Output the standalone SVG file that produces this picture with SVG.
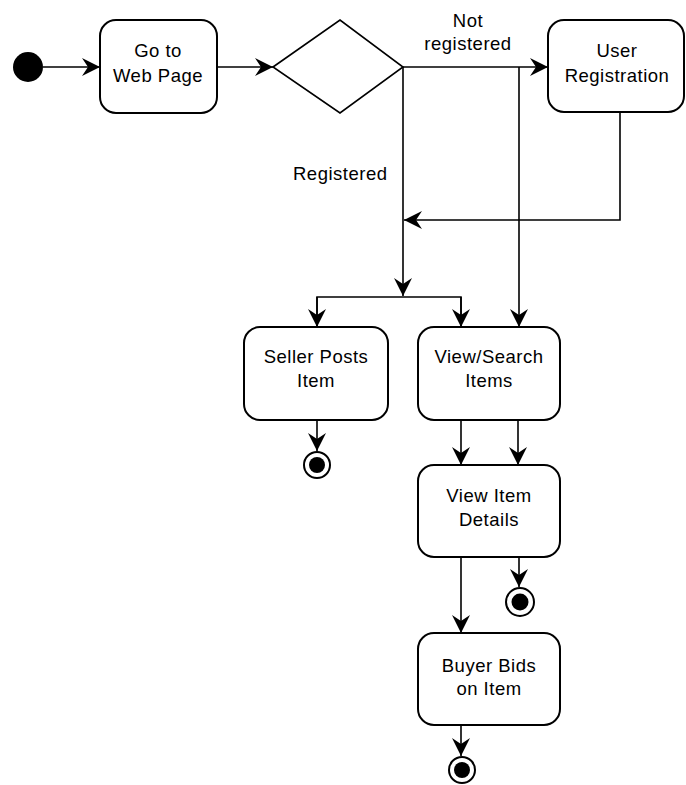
<svg xmlns="http://www.w3.org/2000/svg" width="686" height="785" viewBox="0 0 686 785">
<defs>
<style>
.box{fill:#fff;stroke:#000;stroke-width:2}
.ln{fill:none;stroke:#000;stroke-width:1.6}
.t{font-family:"Liberation Sans",Arial,sans-serif;font-size:18.5px;fill:#000;text-anchor:middle;letter-spacing:0.5px}
.ring{fill:#fff;stroke:#000;stroke-width:2}
</style>
<marker id="ah" markerUnits="userSpaceOnUse" markerWidth="20" markerHeight="20" viewBox="0 0 20 20" refX="18" refY="10" orient="auto">
<path d="M0,1 L18,10 L0,19 L6,10 z" fill="#000"/>
</marker>
</defs>
<g id="connectors">
<line class="ln" x1="43" y1="67" x2="100" y2="67" marker-end="url(#ah)"/>
<line class="ln" x1="217" y1="67" x2="273" y2="67" marker-end="url(#ah)"/>
<line class="ln" x1="403" y1="67" x2="548" y2="67" marker-end="url(#ah)"/>
<line class="ln" x1="403" y1="67" x2="403" y2="296" marker-end="url(#ah)"/>
<line class="ln" x1="519" y1="67" x2="519" y2="327" marker-end="url(#ah)"/>
<polyline class="ln" points="620,112 620,220 404,220" marker-end="url(#ah)"/>
<polyline class="ln" points="317,327 317,297 461,297 461,327"/>
<line class="ln" x1="317" y1="297" x2="317" y2="327" marker-end="url(#ah)"/>
<line class="ln" x1="461" y1="297" x2="461" y2="327" marker-end="url(#ah)"/>
<line class="ln" x1="317" y1="420" x2="317" y2="451" marker-end="url(#ah)"/>
<line class="ln" x1="461" y1="420" x2="461" y2="465" marker-end="url(#ah)"/>
<line class="ln" x1="518" y1="420" x2="518" y2="465" marker-end="url(#ah)"/>
<line class="ln" x1="461" y1="557" x2="461" y2="633" marker-end="url(#ah)"/>
<line class="ln" x1="519" y1="557" x2="519" y2="587" marker-end="url(#ah)"/>
<line class="ln" x1="461" y1="725" x2="461" y2="756" marker-end="url(#ah)"/>
<text class="t" x="468" y="27">Not</text>
<text class="t" x="468" y="50">registered</text>
<text class="t" x="293" y="180" style="text-anchor:start">Registered</text>
</g>
<g id="start"><circle cx="28" cy="67" r="15" fill="#000"/></g>
<g id="goto">
<rect class="box" x="100" y="20" width="117" height="93" rx="16"/>
<text class="t" x="158" y="57">Go to</text>
<text class="t" x="158" y="82">Web Page</text>
</g>
<g id="decision"><polygon points="273,67 340,20 403,67 340,113" fill="#fff" stroke="#000" stroke-width="1.6"/></g>
<g id="userreg">
<rect class="box" x="548" y="20" width="136" height="92" rx="16"/>
<text class="t" x="617" y="57">User</text>
<text class="t" x="617" y="82">Registration</text>
</g>
<g id="seller">
<rect class="box" x="244" y="327" width="144" height="93" rx="16"/>
<text class="t" x="316" y="363">Seller Posts</text>
<text class="t" x="316" y="387">Item</text>
</g>
<g id="viewsearch">
<rect class="box" x="418" y="327" width="142" height="93" rx="16"/>
<text class="t" x="489" y="363">View/Search</text>
<text class="t" x="489" y="387">Items</text>
</g>
<g id="viewdetails">
<rect class="box" x="418" y="465" width="142" height="92" rx="16"/>
<text class="t" x="489" y="502">View Item</text>
<text class="t" x="489" y="526">Details</text>
</g>
<g id="buyerbids">
<rect class="box" x="418" y="633" width="142" height="92" rx="16"/>
<text class="t" x="489" y="672">Buyer Bids</text>
<text class="t" x="489" y="695">on Item</text>
</g>
<g id="end1"><circle class="ring" cx="317" cy="465" r="13"/><circle cx="317" cy="465" r="8" fill="#000"/></g>
<g id="end2"><circle class="ring" cx="520" cy="602" r="14"/><circle cx="520" cy="602" r="8.5" fill="#000"/></g>
<g id="end3"><circle class="ring" cx="462" cy="770" r="13"/><circle cx="462" cy="770" r="8" fill="#000"/></g>
</svg>
